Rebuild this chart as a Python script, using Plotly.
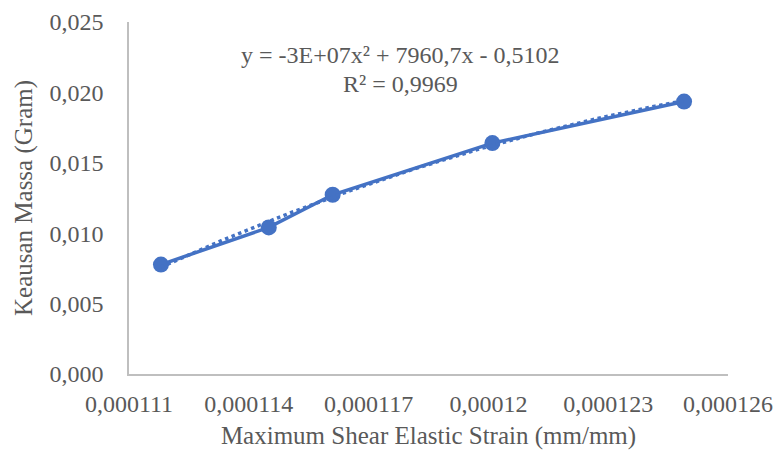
import numpy as np
import plotly.graph_objects as go

strain = [0.0001118, 0.0001145, 0.0001161, 0.0001201, 0.0001249]
wear = [0.00777, 0.01041, 0.01273, 0.01640, 0.01935]

x_ticks = [0.000111, 0.000114, 0.000117, 0.000120, 0.000123, 0.000126]
x_tick_labels = ["0,000111", "0,000114", "0,000117", "0,00012", "0,000123", "0,000126"]
y_ticks = [0.0, 0.005, 0.010, 0.015, 0.020, 0.025]
y_tick_labels = ["0,000", "0,005", "0,010", "0,015", "0,020", "0,025"]

equation_text = "y = -3E+07x² + 7960,7x - 0,5102"
r2_text = "R² = 0,9969"

coef = np.polyfit(strain, wear, 2)
xf = np.linspace(min(strain), max(strain), 200)
yf = np.polyval(coef, xf)

BLUE = "#4472C4"
TXT = "#595959"
FONT = "Liberation Serif"

fig = go.Figure()
fig.add_trace(go.Scatter(x=strain, y=wear, mode="lines+markers",
                         line=dict(color=BLUE, width=3.5),
                         marker=dict(color=BLUE, size=16),
                         showlegend=False))
fig.add_trace(go.Scatter(x=xf, y=yf, mode="lines",
                         line=dict(color=BLUE, width=3.5, dash="dot"),
                         showlegend=False, hoverinfo="skip"))

fig.add_annotation(x=400, y=55, xref="paper", yref="paper", text=equation_text,
                   showarrow=False, font=dict(family=FONT, size=24, color=TXT),
                   xanchor="center", yanchor="middle")
fig.add_annotation(x=400, y=84, xref="paper", yref="paper", text=r2_text,
                   showarrow=False, font=dict(family=FONT, size=24, color=TXT),
                   xanchor="center", yanchor="middle")

L, R, T, B = 129, 47, 22, 81
W, H = 775, 455
pw, ph = W - L - R, H - T - B
for a in fig.layout.annotations:
    a.x = (a.x - L) / pw
    a.y = 1 - (a.y - T) / ph

fig.update_layout(
    width=W, height=H,
    margin=dict(l=L, r=R, t=T, b=B),
    paper_bgcolor="white", plot_bgcolor="white",
    font=dict(family=FONT, color=TXT, size=24),
)
fig.update_xaxes(range=[0.000111, 0.000126], tickvals=x_ticks, ticktext=x_tick_labels,
                 showgrid=False, zeroline=False, showline=True, linecolor="#BFBFBF",
                 linewidth=1.5, ticks="", ticklabelstandoff=7, automargin=False,
                 tickfont=dict(family=FONT, size=24, color=TXT),
                 title=dict(text="Maximum Shear Elastic Strain (mm/mm)",
                            font=dict(family=FONT, size=25, color=TXT), standoff=11))
fig.update_yaxes(range=[0, 0.025], tickvals=y_ticks, ticktext=y_tick_labels,
                 showgrid=False, zeroline=False, showline=True, linecolor="#BFBFBF",
                 linewidth=1.5, ticks="", ticklabelstandoff=19, automargin=False,
                 tickfont=dict(family=FONT, size=24, color=TXT),
                 title=dict(text="Keausan Massa (Gram)",
                            font=dict(family=FONT, size=25, color=TXT), standoff=10))

fig.write_html("out.html")
